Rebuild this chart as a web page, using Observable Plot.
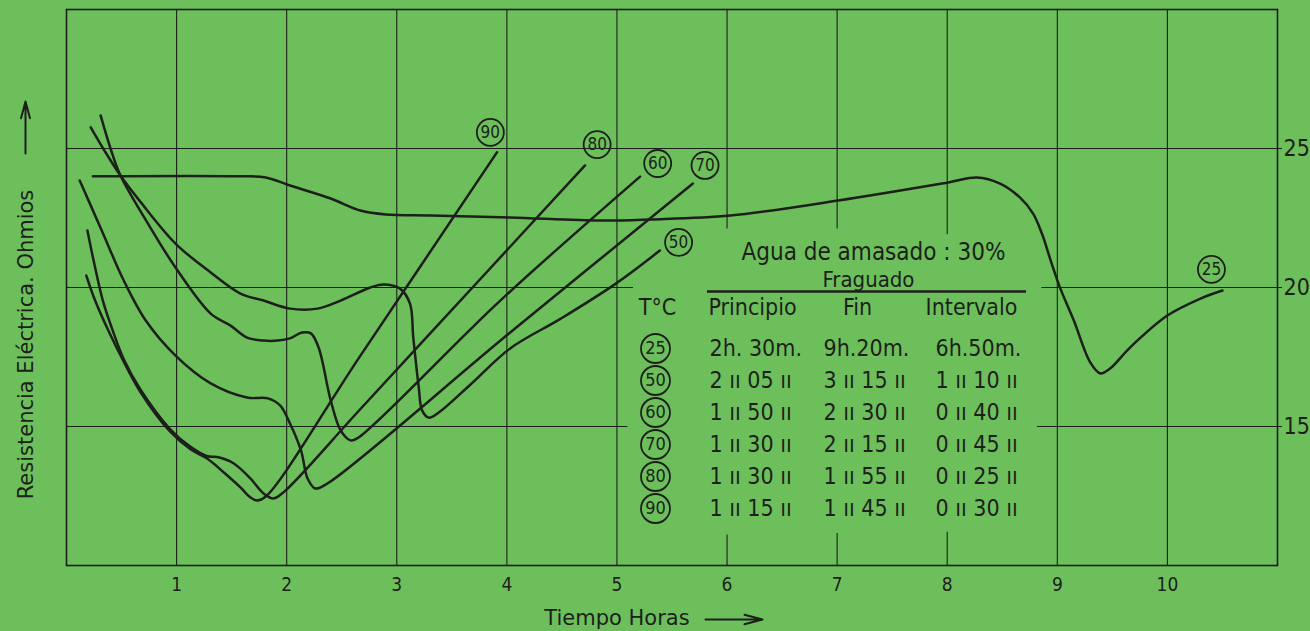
<!DOCTYPE html>
<html><head><meta charset="utf-8">
<script src="https://cdn.jsdelivr.net/npm/d3@7"></script>
<script src="https://cdn.jsdelivr.net/npm/@observablehq/plot@0.6"></script>
<style>
html,body{margin:0;padding:0;background:#6dbf5c;}
#chart{width:1310px;height:631px;overflow:hidden}
</style></head><body><div id="chart"></div>
<script>
// ---- data ----
const xTicks = [1,2,3,4,5,6,7,8,9,10];
const yTicks = [15,20,25];
const xTitle = "Tiempo Horas";
const yTitle = "Resistencia Eléctrica. Ohmios";

// curves: [hours, ohms]
const c25 = [[0.24,24.0],[1.58,24.0],[1.81,23.96],[2.03,23.67],[2.40,23.2],[2.67,22.77],[2.90,22.63],[3.31,22.59],[4.03,22.52],[4.85,22.41],[5.30,22.45],[6.03,22.59],[7.01,23.13],[8.01,23.78],[8.27,23.96],[8.48,23.74],[8.66,23.24],[8.78,22.66],[8.86,21.94],[8.94,20.97],[9.02,20.04],[9.15,18.81],[9.30,17.30],[9.39,16.91],[9.48,17.09],[9.66,17.84],[10.0,18.99],[10.3,19.6],[10.5,19.89]];
const c50 = [[0.22,25.76],[0.35,24.89],[0.49,24.03],[0.67,23.09],[0.99,21.58],[1.31,20.54],[1.58,19.78],[1.79,19.53],[2.03,19.24],[2.28,19.24],[2.49,19.53],[2.76,20.0],[2.88,20.11],[3.03,19.96],[3.12,19.42],[3.15,18.2],[3.20,16.4],[3.23,15.58],[3.29,15.32],[3.37,15.47],[3.67,16.51],[4.03,17.81],[4.49,18.88],[4.99,20.14],[5.39,21.33]];
const c60 = [[0.31,26.19],[0.40,25.0],[0.49,24.03],[0.74,22.3],[0.99,20.72],[1.31,19.06],[1.49,18.63],[1.64,18.2],[1.79,18.09],[1.92,18.09],[2.03,18.17],[2.14,18.38],[2.22,18.35],[2.29,17.84],[2.40,15.94],[2.49,14.86],[2.58,14.5],[2.64,14.57],[3.94,19.53],[5.21,23.99]];
const c70 = [[0.12,23.85],[0.32,22.05],[0.52,20.25],[0.72,18.81],[0.99,17.55],[1.31,16.55],[1.64,16.04],[1.83,16.01],[1.94,15.76],[2.03,15.11],[2.13,14.14],[2.19,13.13],[2.26,12.77],[2.37,12.95],[4.03,18.38],[5.69,23.74]];
const c80 = [[0.19,22.05],[0.25,20.9],[0.33,19.53],[0.42,18.45],[0.52,17.42],[0.67,16.34],[0.94,14.91],[1.13,14.26],[1.28,13.93],[1.37,13.9],[1.52,13.67],[1.67,13.13],[1.79,12.59],[1.88,12.41],[1.97,12.63],[2.67,15.63],[3.73,20.18],[4.71,24.39]];
const c90 = [[0.18,20.43],[0.26,19.53],[0.38,18.45],[0.52,17.33],[0.67,16.25],[0.94,14.82],[1.13,14.17],[1.28,13.84],[1.44,13.31],[1.58,12.81],[1.67,12.45],[1.73,12.34],[1.81,12.48],[2.67,17.55],[3.91,24.86]];
const temps = ["25","50","60","70","80","90"];
const curves = [c25,c50,c60,c70,c80,c90];
// end labels: [hours, ohms]
const labelPos = [[10.4,20.65],[5.56,21.62],[5.37,24.46],[5.80,24.39],[4.82,25.14],[3.85,25.58]];

// table
const tableTitle = "Agua de amasado : 30%";
const tableSub = "Fraguado";
const headers = ["T°C","Principio","Fin","Intervalo"];
const principio = ["2h. 30m.","2 ıı 05 ıı","1 ıı 50 ıı","1 ıı 30 ıı","1 ıı 30 ıı","1 ıı 15 ıı"];
const fin = ["9h.20m.","3 ıı 15 ıı","2 ıı 30 ıı","2 ıı 15 ıı","1 ıı 55 ıı","1 ıı 45 ıı"];
const intervalo = ["6h.50m.","1 ıı 10 ıı","0 ıı 40 ıı","0 ıı 45 ıı","0 ıı 25 ıı","0 ıı 30 ıı"];

// grid segments in data units: vertical [x, y1, y2], horizontal [y, x1, x2]
const vGrid = [[1,10,30],[2,10,30],[3,10,30],[4,10,30],[5,10,30],[6,22.1,30],[6,10,11.1],[7,22.1,30],[7,10,11.15],[8,21.9,30],[8,10,11.2],[9,10,30],[10,10,30]];
const hGrid = [[25,0,11],[20,0,5.15],[20,8.86,11],[15,0,5.1],[15,8.82,11]];

// ---- layout ----
const W = 1310, H = 631, mL = 66, mR = 33, mT = 9, mB = 66;
const ink = "#1c1f1a";
const bg = "#6dbf5c";
const condensed = "'DejaVu Sans Condensed','DejaVu Sans',sans-serif";
const regular = "'DejaVu Sans',sans-serif";
const X = px => (px - mL) / (W - mL - mR) * 11;
const Y = py => 30 - (py - mT) / (H - mT - mB) * 20;

const rows = curves.flatMap((c, k) => c.map(([x, y]) => ({t: temps[k], x, y})));
const labels = temps.map((t, i) => ({t, x: labelPos[i][0], y: labelPos[i][1]}));
const rowY = (d, i) => Y(348 + 32 * i);
const txt = {fill: ink, fontFamily: condensed};

const chart = Plot.plot({
  width: W, height: H,
  marginLeft: mL, marginRight: mR, marginTop: mT, marginBottom: mB,
  x: {domain: [0, 11]},
  y: {domain: [10, 30]},
  style: {background: bg, color: ink, fontFamily: condensed},
  marks: [
    Plot.ruleX(vGrid, {x: d => d[0], y1: d => d[1], y2: d => d[2], stroke: ink, strokeWidth: 1.1}),
    Plot.ruleY(hGrid, {y: d => d[0], x1: d => d[1], x2: d => d[2], stroke: ink, strokeWidth: 1.1}),
    Plot.frame({stroke: ink, strokeWidth: 1.6}),
    Plot.line(rows, {x: "x", y: "y", z: "t", curve: "catmull-rom", stroke: ink, strokeWidth: 2.5}),
    Plot.dot(labels, {x: "x", y: "y", r: 13.5, stroke: ink, strokeWidth: 1.8, fill: "none"}),
    Plot.text(labels, {x: "x", y: "y", text: "t", fontSize: 17, ...txt}),
    Plot.axisX({ticks: xTicks, tickSize: 0, tickPadding: 12, fontSize: 19, label: null, tickFormat: d => String(d), fontFamily: condensed}),
    Plot.axisY({anchor: "right", ticks: yTicks, tickSize: 4, tickPadding: 2, fontSize: 23, label: null, tickFormat: d => String(d), fontFamily: condensed}),
    Plot.text([xTitle], {frameAnchor: "bottom", lineAnchor: "middle", dy: 53, dx: -55, fontSize: 21, fill: ink, fontFamily: regular}),
    Plot.arrow([0], {x1: X(705), x2: X(762), y1: Y(619), y2: Y(619), stroke: ink, strokeWidth: 2, headLength: 14, headAngle: 30, clip: false}),
    Plot.text([yTitle], {frameAnchor: "left", textAnchor: "middle", lineAnchor: "middle", rotate: -90, dx: -40, dy: 57, fontSize: 21, fill: ink, fontFamily: regular, ariaLabel: "ytitle"}),
    Plot.arrow([0], {x1: X(25), x2: X(25), y1: Y(153), y2: Y(101), stroke: ink, strokeWidth: 2, headLength: 14, headAngle: 30, clip: false}),
    // table
    Plot.text([tableTitle], {x: X(873), y: Y(252), fontSize: 24, ...txt}),
    Plot.text([tableSub], {x: X(868), y: Y(279), fontSize: 22, ...txt}),
    Plot.ruleY([Y(291)], {x1: X(707), x2: X(1026), stroke: ink, strokeWidth: 2.4}),
    Plot.text(headers, {x: (d, i) => X([657, 752, 857, 971][i]), y: Y(307), text: d => d, fontSize: 23, ...txt}),
    Plot.dot(temps, {x: X(655), y: rowY, r: 14.5, stroke: ink, strokeWidth: 1.8, fill: "none"}),
    Plot.text(temps, {x: X(655), y: rowY, text: d => d, fontSize: 18, ...txt}),
    Plot.text(principio, {x: X(709), y: rowY, text: d => d, textAnchor: "start", fontSize: 23, ...txt}),
    Plot.text(fin, {x: X(823), y: rowY, text: d => d, textAnchor: "start", fontSize: 23, ...txt}),
    Plot.text(intervalo, {x: X(935), y: rowY, text: d => d, textAnchor: "start", fontSize: 23, ...txt})
  ]
});
d3.select(chart).selectAll('g[aria-label="ytitle"] text').style("letter-spacing", "0.4px");
document.getElementById("chart").append(chart);
</script></body></html>
